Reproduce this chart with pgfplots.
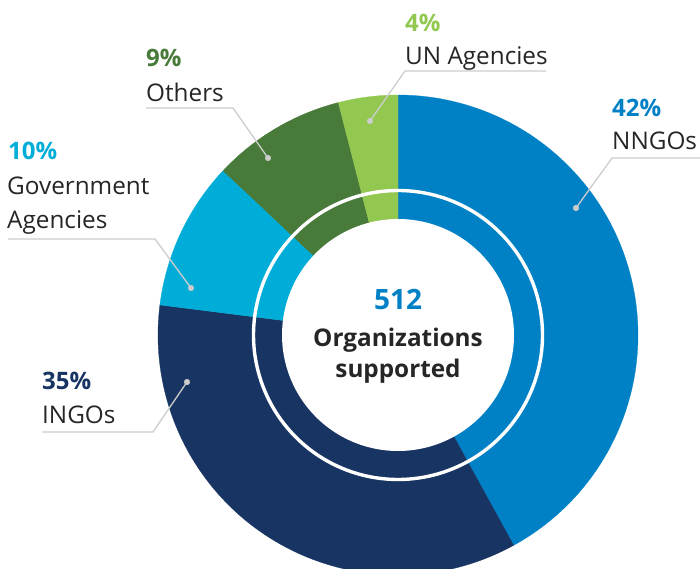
\documentclass[border=0pt]{standalone}
\usepackage{pgfplots}
\pgfplotsset{compat=1.18}
\usepackage{fontspec}
\setmainfont{Open Sans}
\definecolor{cNN}{HTML}{0081C6}
\definecolor{cIN}{HTML}{183462}
\definecolor{cGO}{HTML}{00ADD8}
\definecolor{cOT}{HTML}{487A3A}
\definecolor{cUN}{HTML}{92C850}
\definecolor{txt}{HTML}{262626}
\definecolor{lead}{HTML}{CDCDCD}
\tikzset{
  lab/.style={anchor=base west, inner sep=0pt, text=txt, font=\fontsize{24.3}{28}\selectfont},
  pct/.style={anchor=base west, inner sep=0pt, font=\fontsize{24}{28}\selectfont\bfseries},
  ctr/.style={anchor=base, inner sep=0pt, text=txt, font=\fontsize{24.3}{30}\selectfont\bfseries},
}
% shares in percent
\def\pNN{42}\def\pIN{35}\def\pGO{10}\def\pOT{9}\def\pUN{4}
\pgfmathsetmacro\aA{90-3.6*\pNN}
\pgfmathsetmacro\aB{\aA-3.6*\pIN}
\pgfmathsetmacro\aC{\aB-3.6*\pGO}
\pgfmathsetmacro\aD{\aC-3.6*\pOT}
\pgfmathsetmacro\aE{\aD-3.6*\pUN}
\begin{document}
\begin{tikzpicture}
\begin{axis}[
  scale only axis, width=700pt, height=569pt,
  xmin=0, xmax=700, ymin=0, ymax=569, y dir=reverse,
  hide axis, clip=true, clip bounding box=upper bound,
]
% sectors
\addplot[fill=cNN, draw=cNN, line width=0.3pt, domain=\aA:90, samples=120, variable=\t]
  ({398+240*cos(\t)},{335-240*sin(\t)}) -- (axis cs:398,335) -- cycle;
\addplot[fill=cIN, draw=cIN, line width=0.3pt, domain=\aB:\aA, samples=120, variable=\t]
  ({398+240*cos(\t)},{335-240*sin(\t)}) -- (axis cs:398,335) -- cycle;
\addplot[fill=cGO, draw=cGO, line width=0.3pt, domain=\aC:\aB, samples=40, variable=\t]
  ({398+240*cos(\t)},{335-240*sin(\t)}) -- (axis cs:398,335) -- cycle;
\addplot[fill=cOT, draw=cOT, line width=0.3pt, domain=\aD:\aC, samples=40, variable=\t]
  ({398+240*cos(\t)},{335-240*sin(\t)}) -- (axis cs:398,335) -- cycle;
\addplot[fill=cUN, draw=cUN, line width=0.3pt, domain=\aE:\aD, samples=20, variable=\t]
  ({398+240*cos(\t)},{335-240*sin(\t)}) -- (axis cs:398,335) -- cycle;
% white centre and ring
\addplot[fill=white, draw=none, domain=0:360, samples=200, variable=\t]
  ({398+116*cos(\t)},{335-116*sin(\t)}) -- cycle;
\addplot[draw=white, line width=3.4pt, domain=0:360, samples=240, variable=\t]
  ({398+144.5*cos(\t)},{335-144.5*sin(\t)}) -- cycle;
% leader lines
\addplot[lead, line width=1.3pt] coordinates {(576,208) (612,158) (700,158)};
\addplot[lead, line width=1.3pt] coordinates {(370,121) (405,71) (546,71)};
\addplot[lead, line width=1.3pt] coordinates {(268,158) (233,108) (146,108)};
\addplot[lead, line width=1.3pt] coordinates {(191,288) (155,239) (8,239)};
\addplot[lead, line width=1.3pt] coordinates {(187,382) (153,432) (42,432)};
\addplot[only marks, mark=*, mark size=2.8pt, color=lead] coordinates {(576,208) (370,121) (268,158) (191,288) (187,382)};
% labels
\node[pct, text=cUN] at (axis cs:405,32) {4\%};
\node[lab] at (axis cs:405,65) {UN Agencies};
\node[pct, text=cNN] at (axis cs:612,117) {42\%};
\node[lab] at (axis cs:612,150) {NNGOs};
\node[pct, text=cOT] at (axis cs:146,67) {9\%};
\node[lab] at (axis cs:146,102) {Others};
\node[pct, text=cGO] at (axis cs:8,160) {10\%};
\node[lab] at (axis cs:7,195) {Government};
\node[lab] at (axis cs:7,228) {Agencies};
\node[pct, text=cIN] at (axis cs:42,389) {35\%};
\node[lab] at (axis cs:42,423) {INGOs};
% centre
\node[ctr, text=cNN, font=\fontsize{28}{30}\selectfont\bfseries] at (axis cs:398,309) {512};
\node[ctr] at (axis cs:398,346) {Organizations};
\node[ctr] at (axis cs:398,377) {supported};
\end{axis}
\pgfresetboundingbox
\useasboundingbox (0,0) rectangle (700pt,569pt);
\end{tikzpicture}
\end{document}
